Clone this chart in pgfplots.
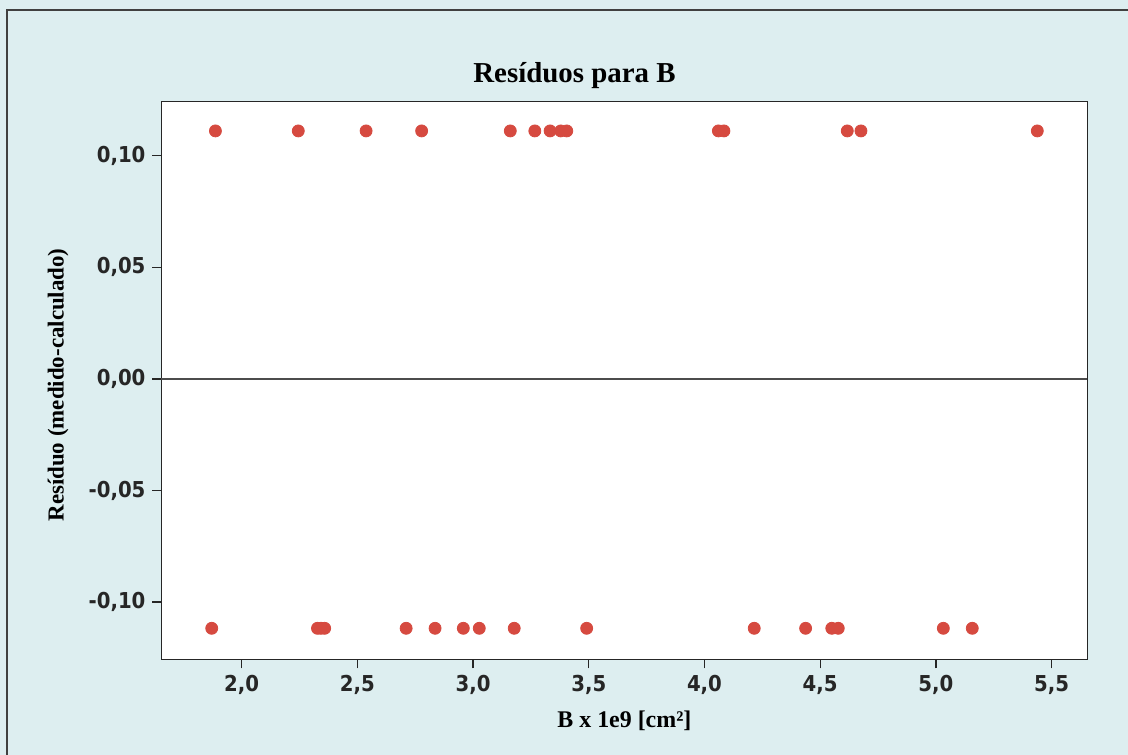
\documentclass[border=0pt]{standalone}
\usepackage{pgfplots}
\pgfplotsset{compat=1.18}
\usepackage{fontspec}
\setmainfont{Liberation Serif}
\newfontfamily\tickfont[FakeStretch=0.9]{DejaVu Sans}
\definecolor{bgc}{RGB}{221,238,240}
\definecolor{ptc}{RGB}{214,74,64}
\begin{document}
\begin{tikzpicture}
\fill[bgc] (-80.75bp,-47.85bp) rectangle (483.25bp,329.65bp);
\path[use as bounding box] (-80.75bp,-47.85bp) rectangle (483.25bp,329.65bp);
\draw[black!75, line width=0.6bp] (-77.25bp,-47.85bp) -- (-77.25bp,324.65bp) -- (483.25bp,324.65bp);
\node[anchor=base, font=\bfseries\fontsize{14.5}{17}\selectfont] at (206.5bp,288.15bp) {Resíduos para B};
\begin{axis}[
  at={(0,0)}, anchor=south west,
  scale only axis, width=462.9bp, height=278.8bp,
  xmin=1.654, xmax=5.654, ymin=-0.1257, ymax=0.1243,
  axis background/.style={fill=white},
  axis line style={black!85, line width=0.7bp},
  xtick={2,2.5,3,3.5,4,4.5,5,5.5},
  ytick={-0.1,-0.05,0,0.05,0.1},
  tick align=outside, major tick length=4.5bp,
  xtick pos=bottom, ytick pos=left,
  tick style={black!85, line width=0.6bp},
  ticklabel style={font=\tickfont\bfseries\fontsize{11}{13}\selectfont, text=black!85},
  /pgf/number format/assume math mode=true,
  /pgf/number format/use comma,
  xticklabel style={/pgf/number format/fixed, /pgf/number format/fixed zerofill, /pgf/number format/precision=1},
  yticklabel style={/pgf/number format/fixed, /pgf/number format/fixed zerofill, /pgf/number format/precision=2},
  scaled ticks=false,
  xlabel={B x 1e9 [cm²]},
  ylabel={Resíduo (medido-calculado)},
  xlabel style={at={(axis description cs:0.5,0)}, anchor=base, yshift=-33.85bp, font=\bfseries\fontsize{12}{14}\selectfont},
  ylabel style={at={(axis description cs:-0.1118,0.492)}, anchor=center, font=\bfseries\fontsize{11.5}{13}\selectfont},
  clip=false,
]
\addplot[black!70, line width=0.6bp, forget plot] coordinates {(1.654,0) (5.654,0)};
\addplot[only marks, mark=*, mark size=3bp, color=ptc, mark options={draw=ptc, fill=ptc}] coordinates {
(1.887,0.1112) (2.245,0.1112) (2.538,0.1112) (2.778,0.1112) (3.161,0.1112)
(3.267,0.1112) (3.333,0.1112) (3.379,0.1112) (3.405,0.1112) (4.060,0.1112)
(4.084,0.1112) (4.617,0.1112) (4.676,0.1112) (5.438,0.1112)
(1.871,-0.1118) (2.328,-0.1118) (2.343,-0.1118) (2.359,-0.1118) (2.711,-0.1118)
(2.836,-0.1118) (2.958,-0.1118) (3.027,-0.1118) (3.178,-0.1118) (3.491,-0.1118)
(4.215,-0.1118) (4.437,-0.1118) (4.550,-0.1118) (4.578,-0.1118) (5.032,-0.1118)
(5.157,-0.1118)
};
\end{axis}
\end{tikzpicture}
\end{document}
